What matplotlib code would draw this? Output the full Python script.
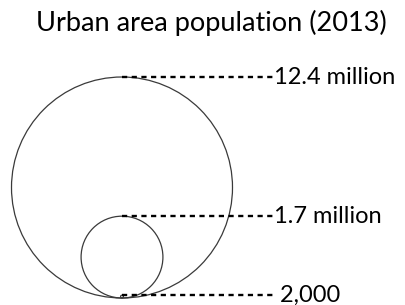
import numpy as np
import matplotlib
matplotlib.use('Agg')
import matplotlib.pyplot as plt
from matplotlib.patches import Circle

# urban area population (2013)
populations = [12.4e6, 1.7e6, 2000]
labels = ['12.4 million', '1.7 million', ' 2,000']
title = 'Urban area population (2013)'

# layout in pixel units (figure is 405 x 305)
cx, base_y, r_max = 122, 298, 110.5
line_end, text_x = 276, 274

fig = plt.figure(figsize=(4.05, 3.05), dpi=100)
ax = fig.add_axes([0, 0, 1, 1])
ax.set_xlim(0, 405)
ax.set_ylim(305, 0)
ax.set_aspect('equal')
ax.axis('off')

for pop, lab in zip(populations, labels):
    # circle area proportional to population
    r = r_max * np.sqrt(pop / max(populations))
    ax.add_patch(Circle((cx, base_y - r), r, fill=False, ec='#3a3a3a', lw=0.9))
    top = base_y - 2 * r
    ax.plot([cx, line_end], [top, top], color='black', lw=1.7,
            linestyle=(0, (2.2, 1.9)))
    ax.text(text_x, top, lab, fontsize=17, family='Lato', va='center', ha='left')

ax.text(211, 23, title, fontsize=19.5, family='Lato', ha='center', va='center')

fig.savefig('out.png', dpi=100)
